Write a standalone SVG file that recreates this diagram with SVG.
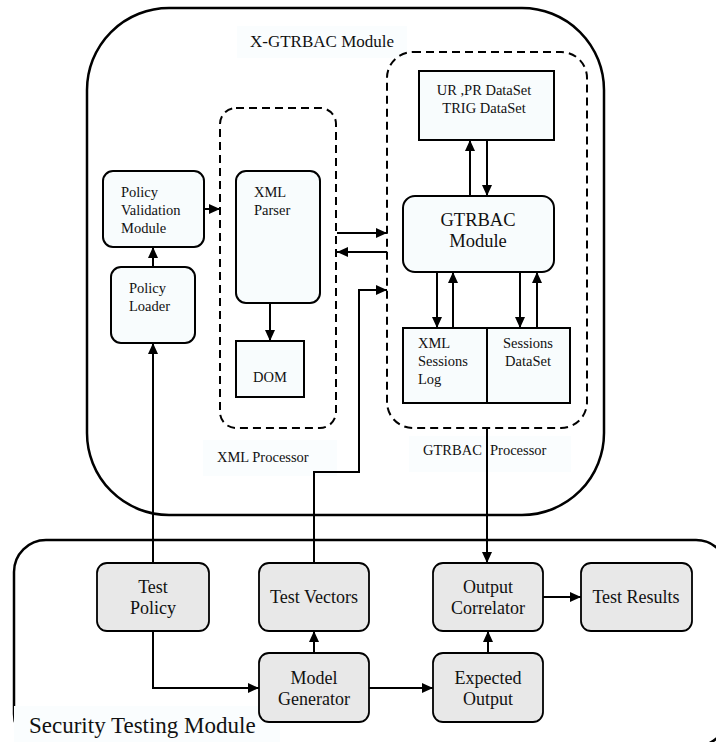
<svg xmlns="http://www.w3.org/2000/svg" width="716" height="742" viewBox="0 0 716 742" font-family="'Liberation Serif', 'Times New Roman', serif">
<defs>
<style>
text{font-family:'Liberation Serif','Times New Roman',serif;fill:#111}
.s{font-size:14.5px}
.m{font-size:18px}
.box{fill:#f8fcfd;stroke:#000;stroke-width:2}
.gbox{fill:#e8e8e8;stroke:#000;stroke-width:1.8}
.dash{fill:none;stroke:#000;stroke-width:2;stroke-dasharray:8,5}
.outer{fill:none;stroke:#000;stroke-width:2.5}
.lbl{fill:#fafdfe}
.c{fill:none;stroke:#000;stroke-width:2}
</style>
<marker id="a" markerUnits="userSpaceOnUse" markerWidth="12" markerHeight="10" refX="11" refY="5" orient="auto">
<path d="M0,0 L11,5 L0,10 z" fill="#000"/>
</marker>
</defs>
<rect width="716" height="742" fill="#fff"/>

<g id="x-gtrbac-module">
<rect class="outer" x="87" y="8" width="517" height="507" rx="82"/>
<rect class="lbl" x="237" y="26" width="170" height="32"/>
<text x="250" y="47" font-size="17">X-GTRBAC Module</text>
</g>

<g id="xml-processor">
<rect class="dash" x="220" y="108" width="116" height="320" rx="16"/>
<rect class="lbl" x="203" y="440" width="134" height="36"/>
<text class="s" x="217" y="462">XML Processor</text>
</g>

<g id="gtrbac-processor">
<rect class="dash" x="387" y="52" width="200" height="376" rx="26"/>
<rect class="lbl" x="409" y="436" width="162" height="36"/>
<text class="s" x="423" y="455">GTRBAC</text>
<text class="s" x="490" y="455">Processor</text>
</g>

<g id="security-testing-module">
<rect class="outer" x="14" y="540" width="714" height="206" rx="32"/>
<rect class="lbl" x="14" y="706" width="266" height="36"/>
<text x="29" y="733" font-size="23">Security Testing Module</text>
</g>

<g id="policy-validation">
<rect class="box" x="103" y="171" width="101" height="76" rx="10"/>
<text class="s" x="121" y="197">Policy</text>
<text class="s" x="121" y="215">Validation</text>
<text class="s" x="121" y="233">Module</text>
</g>

<g id="policy-loader">
<rect class="box" x="111" y="267" width="84" height="76" rx="10"/>
<text class="s" x="129" y="293">Policy</text>
<text class="s" x="129" y="311">Loader</text>
</g>

<g id="xml-parser">
<rect class="box" x="236" y="171" width="84" height="132" rx="10"/>
<text class="s" x="254" y="197">XML</text>
<text class="s" x="254" y="215">Parser</text>
</g>

<g id="dom">
<rect class="box" x="236" y="341" width="68" height="56"/>
<text class="s" x="270" y="382" text-anchor="middle">DOM</text>
</g>

<g id="datasets">
<rect class="box" x="419" y="71" width="135" height="69"/>
<text class="s" x="484" y="95" text-anchor="middle">UR ,PR DataSet</text>
<text class="s" x="484" y="113" text-anchor="middle">TRIG DataSet</text>
</g>

<g id="gtrbac-module">
<rect class="box" x="403" y="196" width="151" height="76" rx="12"/>
<text x="478" y="226" text-anchor="middle" font-size="18.5">GTRBAC</text>
<text x="478" y="247" text-anchor="middle" font-size="18.5">Module</text>
</g>

<g id="xml-sessions-log">
<rect class="box" x="403" y="328" width="84" height="75"/>
<text class="s" x="418" y="348">XML</text>
<text class="s" x="418" y="366">Sessions</text>
<text class="s" x="418" y="384">Log</text>
</g>

<g id="sessions-dataset">
<rect class="box" x="487" y="328" width="83" height="75"/>
<text class="s" x="528" y="348" text-anchor="middle">Sessions</text>
<text class="s" x="528" y="366" text-anchor="middle">DataSet</text>
</g>

<g id="test-policy">
<rect class="gbox" x="97" y="563" width="112" height="68" rx="10"/>
<text class="m" x="153" y="593" text-anchor="middle">Test</text>
<text class="m" x="153" y="614" text-anchor="middle">Policy</text>
</g>

<g id="test-vectors">
<rect class="gbox" x="259" y="563" width="110" height="68" rx="10"/>
<text class="m" x="314" y="603" text-anchor="middle">Test Vectors</text>
</g>

<g id="model-generator">
<rect class="gbox" x="259" y="653" width="110" height="69" rx="10"/>
<text class="m" x="314" y="684" text-anchor="middle">Model</text>
<text class="m" x="314" y="705" text-anchor="middle">Generator</text>
</g>

<g id="output-correlator">
<rect class="gbox" x="433" y="563" width="110" height="68" rx="10"/>
<text class="m" x="488" y="593" text-anchor="middle">Output</text>
<text class="m" x="488" y="614" text-anchor="middle">Correlator</text>
</g>

<g id="test-results">
<rect class="gbox" x="581" y="563" width="111" height="68" rx="10"/>
<text class="m" x="636" y="603" text-anchor="middle">Test Results</text>
</g>

<g id="expected-output">
<rect class="gbox" x="433" y="653" width="110" height="69" rx="10"/>
<text class="m" x="488" y="684" text-anchor="middle">Expected</text>
<text class="m" x="488" y="705" text-anchor="middle">Output</text>
</g>

<g id="connectors">
<path class="c" d="M153,267 V247" marker-end="url(#a)"/>
<path class="c" d="M153,563 V343" marker-end="url(#a)"/>
<path class="c" d="M204,209 H220" marker-end="url(#a)"/>
<path class="c" d="M270,303 V341" marker-end="url(#a)"/>
<path class="c" d="M337,233 H387" marker-end="url(#a)"/>
<path class="c" d="M387,252 H337" marker-end="url(#a)"/>
<path class="c" d="M314,563 V472 H359 V290 H387" marker-end="url(#a)"/>
<path class="c" d="M470,196 V140" marker-end="url(#a)"/>
<path class="c" d="M487,140 V196" marker-end="url(#a)"/>
<path class="c" d="M437,272 V328" marker-end="url(#a)"/>
<path class="c" d="M453,328 V272" marker-end="url(#a)"/>
<path class="c" d="M520,272 V328" marker-end="url(#a)"/>
<path class="c" d="M537,328 V272" marker-end="url(#a)"/>
<path class="c" d="M487,428 V563" marker-end="url(#a)"/>
<path class="c" d="M153,631 V688 H259" marker-end="url(#a)"/>
<path class="c" d="M314,653 V631" marker-end="url(#a)"/>
<path class="c" d="M369,688 H433" marker-end="url(#a)"/>
<path class="c" d="M488,653 V631" marker-end="url(#a)"/>
<path class="c" d="M543,597 H581" marker-end="url(#a)"/>
</g>
</svg>
